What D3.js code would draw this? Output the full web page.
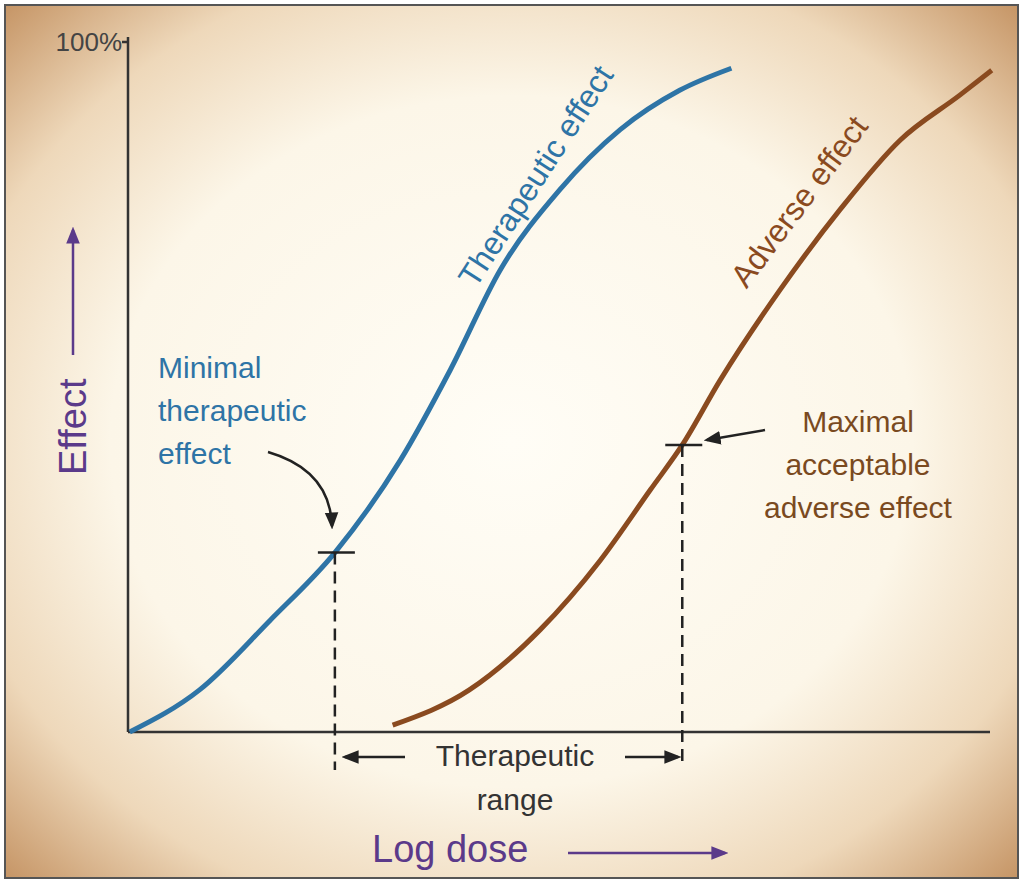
<!DOCTYPE html><html><head><meta charset="utf-8">
<script src="https://cdn.jsdelivr.net/npm/d3@7"></script>
<style>body{margin:0;background:#fff}</style></head><body>
<svg id="c" width="1024" height="884"></svg>
<script>
const therapeuticDose=[0.2,8.3,16.5,24,31.6,37.4,43.2,50.1,57.1,64,70];
const therapeuticEffect=[0,6.1,16.2,26,39.4,52.5,67,78.6,87.3,93,96.2];
const adverseDose=[30.7,39.6,47.8,54.8,60.6,64.3,68.7,75.6,82.6,89.6,96.5,100.2];
const adverseEffect=[1,6.1,14.8,24.9,35.1,41.6,51,64,75.7,85.8,92.3,95.9];
const minimalPoint=[24,26];
const maximalPoint=[64.3,41.6];
const yTickLabels=["100%"];

const svg=d3.select("#c");
const defs=svg.append("defs");
const g=defs.append("radialGradient").attr("id","bg").attr("cx","50%").attr("cy","50%").attr("r","72%");
g.append("stop").attr("offset","0%").attr("stop-color","#fffdf6");
g.append("stop").attr("offset","55%").attr("stop-color","#fcf6e8");
g.append("stop").attr("offset","78%").attr("stop-color","#eed8ba");
g.append("stop").attr("offset","100%").attr("stop-color","#c28f5e");
svg.append("rect").attr("x",5).attr("y",5).attr("width",1013).attr("height",873).attr("fill","url(#bg)").attr("stroke","#555").attr("stroke-width",2);
[["ak","#222"],["ap","#5b3a8a"]].forEach(([id,c])=>{
defs.append("marker").attr("id",id).attr("viewBox","0 0 10 10").attr("refX",8).attr("refY",5)
.attr("markerUnits","userSpaceOnUse").attr("orient","auto")
.attr("markerWidth",17).attr("markerHeight",17)
.append("path").attr("d","M0,1L10,5L0,9Z").attr("fill",c);});

const x=d3.scaleLinear().domain([0,100]).range([128,990]);
const y=d3.scaleLinear().domain([0,100]).range([732,42]);
const ax=svg.append("g").attr("stroke","#333").attr("stroke-width",2.5);
ax.append("line").attr("x1",x(0)).attr("x2",x(0)).attr("y1",y(100)-5).attr("y2",y(0));
ax.append("line").attr("x1",x(0)).attr("x2",x(100)).attr("y1",y(0)).attr("y2",y(0));
ax.append("line").attr("x1",x(0)-6).attr("x2",x(0)).attr("y1",y(100)).attr("y2",y(100));
svg.append("text").attr("x",x(0)-6).attr("y",y(100)+9).attr("text-anchor","end").attr("font-family","Liberation Sans, Arial").attr("font-size",26).attr("fill","#444").text(yTickLabels[0]);

const line=d3.line().x(d=>x(d[0])).y(d=>y(d[1])).curve(d3.curveMonotoneX);
svg.append("path").attr("d",line(d3.zip(therapeuticDose,therapeuticEffect))).attr("fill","none").attr("stroke","#2e74a6").attr("stroke-width",5);
svg.append("path").attr("d",line(d3.zip(adverseDose,adverseEffect))).attr("fill","none").attr("stroke","#8a4a1f").attr("stroke-width",5);

const f="Liberation Sans, Arial, sans-serif";
[[minimalPoint,770],[maximalPoint,765]].forEach(([p,yb])=>{
 svg.append("line").attr("x1",x(p[0])-17).attr("x2",x(p[0])+20).attr("y1",y(p[1])).attr("y2",y(p[1])).attr("stroke","#222").attr("stroke-width",2.5);
 svg.append("line").attr("x1",x(p[0])).attr("x2",x(p[0])).attr("y1",y(p[1])).attr("y2",yb).attr("stroke","#222").attr("stroke-width",2.5).attr("stroke-dasharray","12,7");
});
const txt=(t,xx,yy,c,s,a="start")=>svg.append("text").attr("x",xx).attr("y",yy).attr("fill",c).attr("font-size",s).attr("font-family",f).attr("text-anchor",a).text(t);
txt("Therapeutic",515,766,"#333",30,"middle");
txt("range",515,810,"#333",30,"middle");
svg.append("line").attr("x1",405).attr("x2",345).attr("y1",757).attr("y2",757).attr("stroke","#222").attr("stroke-width",2.5).attr("marker-end","url(#ak)");
svg.append("line").attr("x1",625).attr("x2",678).attr("y1",757).attr("y2",757).attr("stroke","#222").attr("stroke-width",2.5).attr("marker-end","url(#ak)");

txt("Log dose",372,862,"#5b3a8a",38);
svg.append("line").attr("x1",568).attr("x2",725).attr("y1",853).attr("y2",853).attr("stroke","#5b3a8a").attr("stroke-width",2.5).attr("marker-end","url(#ap)");
svg.append("text").attr("transform","translate(86,475) rotate(-90)").attr("fill","#5b3a8a").attr("font-size",38).attr("font-family",f).text("Effect");
svg.append("line").attr("x1",73).attr("x2",73).attr("y1",355).attr("y2",230).attr("stroke","#5b3a8a").attr("stroke-width",2.5).attr("marker-end","url(#ap)");

["Minimal","therapeutic","effect"].forEach((t,i)=>txt(t,158,378+i*43,"#2e74a6",30));
["Maximal","acceptable","adverse effect"].forEach((t,i)=>txt(t,858,432+i*43,"#7a4a1f",30,"middle"));
svg.append("path").attr("d","M268,452 Q330,470 332,526").attr("fill","none").attr("stroke","#222").attr("stroke-width",2.5).attr("marker-end","url(#ak)");
svg.append("line").attr("x1",765).attr("x2",707).attr("y1",430).attr("y2",440).attr("stroke","#222").attr("stroke-width",2.5).attr("marker-end","url(#ak)");

svg.append("text").attr("transform","translate(545,182) rotate(-57)").attr("text-anchor","middle").attr("fill","#2e74a6").attr("font-size",32).attr("font-family",f).text("Therapeutic effect");
svg.append("text").attr("transform","translate(808,208) rotate(-53)").attr("text-anchor","middle").attr("fill","#8a4a1f").attr("font-size",32).attr("font-family",f).text("Adverse effect");
</script></body></html>
